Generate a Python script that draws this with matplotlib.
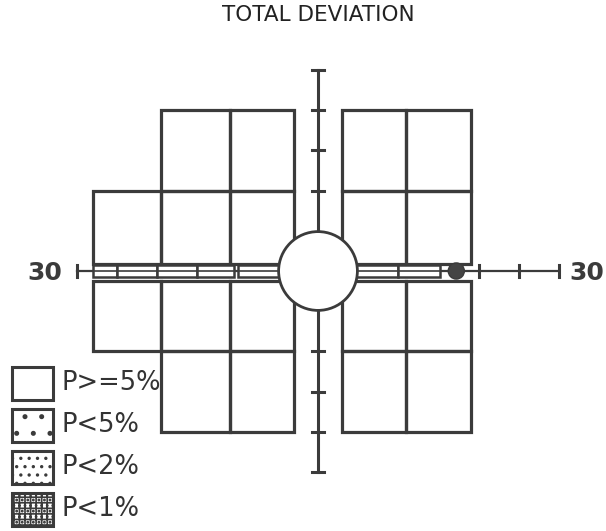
import numpy as np
import matplotlib.pyplot as plt
from matplotlib.patches import Rectangle, Circle

# test point cells (degrees): left edge, right edge, bottom, top, p-class
cell_x0 = [-19.5, -11, 3, 11, -28, -19.5, -11, 3, 11, -28, -19.5, -11, 3, 11, -19.5, -11, 3, 11]
cell_x1 = [-11, -3, 11, 19, -19.5, -11, -3, 11, 19, -19.5, -11, -3, 11, 19, -11, -3, 11, 19]
cell_y0 = [10, 10, 10, 10, 0.9, 0.9, 0.9, 0.9, 0.9, -10, -10, -10, -10, -10, -20, -20, -20, -20]
cell_y1 = [20, 20, 20, 20, 10, 10, 10, 10, 10, -1.3, -1.3, -1.3, -1.3, -1.3, -10, -10, -10, -10]
cell_p = [0] * 18

# thin cells along the horizontal meridian
strip_x0 = [-28, -25, -20, -15, -10, 4, 10]
strip_x1 = [-25, -20, -15, -10.4, -4, 10, 15.2]
strip_p = [0] * 7
strip_half = 0.75

fovea_r = 4.9
blind_x, blind_r = 17.2, 1.0

axis_len = 30
vaxis_len = 25
h_ticks = [20, 25]
v_ticks = [-20, -15, -10, 10, 15, 20]

legend_labels = ["P>=5%", "P<5%", "P<2%", "P<1%"]
legend_hatch = ["", ".", "..", "+++..."]

col = "#3b3b3b"
plt.rcParams["hatch.linewidth"] = 1.2

fig = plt.figure(figsize=(6.06, 5.31), dpi=100)
ax = fig.add_axes([0, 0, 1, 1])
px = 8.04
ax.set_xlim(-318 / px, (606 - 318) / px)
ax.set_ylim(-(531 - 271) / px, 271 / px)
ax.axis("off")

# axes of the field
ax.plot([-axis_len, axis_len], [0, 0], color=col, lw=1.6, zorder=1)
ax.plot([0, 0], [-vaxis_len, vaxis_len], color=col, lw=2.2, zorder=1)
for t in [-axis_len, axis_len] + h_ticks:
    ax.plot([t, t], [-0.7, 0.7], color=col, lw=2.2, zorder=1)
for t in [-vaxis_len, vaxis_len] + v_ticks:
    ax.plot([-0.8, 0.8], [t, t], color=col, lw=2.2, zorder=1)

for x0, x1, y0, y1, p in zip(cell_x0, cell_x1, cell_y0, cell_y1, cell_p):
    ax.add_patch(Rectangle((x0, y0), x1 - x0, y1 - y0, facecolor="none",
                           edgecolor=col, lw=2.3, hatch=legend_hatch[p], zorder=2))

for x0, x1, p in zip(strip_x0, strip_x1, strip_p):
    ax.add_patch(Rectangle((x0, -strip_half), x1 - x0, 2 * strip_half, facecolor="white",
                           edgecolor=col, lw=1.8, hatch=legend_hatch[p], zorder=3))
ax.plot([strip_x0[0], strip_x1[-1]], [0, 0], color=col, lw=1.2, zorder=3)

ax.add_patch(Circle((0, 0), fovea_r, facecolor="white", edgecolor=col, lw=2, zorder=4))
ax.add_patch(Circle((blind_x, 0), blind_r, facecolor="#444444", edgecolor=col, lw=1, zorder=4))

ax.text(0.525, 0.972, "TOTAL DEVIATION", transform=ax.transAxes, ha="center", va="center",
        fontsize=15.5, fontweight="medium", color="#222222", family="DejaVu Sans")
ax.text(0.074, 0.486, "30", transform=ax.transAxes, ha="center", va="center",
        fontsize=18, fontweight="bold", color=col)
ax.text(0.969, 0.486, "30", transform=ax.transAxes, ha="center", va="center",
        fontsize=18, fontweight="bold", color=col)

# legend
for i, (lab, h) in enumerate(zip(legend_labels, legend_hatch)):
    y = 0.2467 - i * 0.0791
    ax.add_patch(Rectangle((0.0198, y), 0.0677, 0.0622, transform=ax.transAxes,
                           facecolor="white", edgecolor=col, lw=2.2, hatch=h, zorder=5))
    ax.text(0.102, y + 0.032, lab, transform=ax.transAxes, ha="left", va="center",
            fontsize=18.5, fontweight="medium", color="#333333")

fig.savefig("out.png", dpi=100)
